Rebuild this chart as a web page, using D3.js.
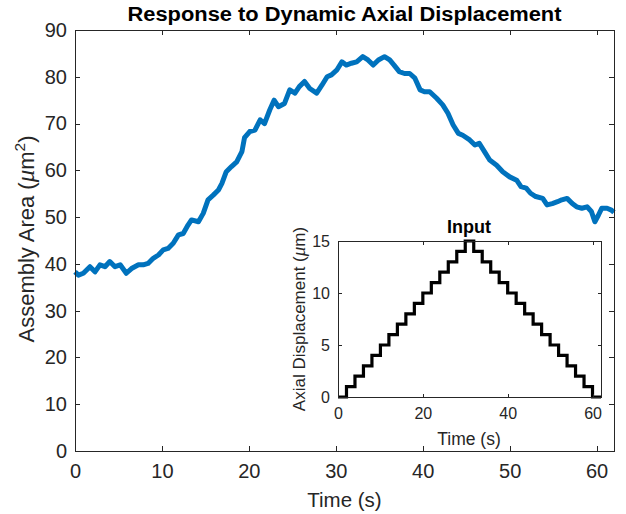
<!DOCTYPE html>
<html><head><meta charset="utf-8">
<script src="https://cdn.jsdelivr.net/npm/d3@7"></script>
<style>body{margin:0;background:#fff}svg{display:block}text{font-family:"Liberation Sans",Arial,sans-serif}</style>
</head><body><svg id="c" width="626" height="514"></svg>
<script>
const timeS = [0,0.4,0.96,1.72,2.3,2.87,3.45,4.0,4.6,5.2,5.9,6.5,7.3,7.85,8.4,9.0,9.6,10.15,10.7,11.3,11.9,12.45,13.0,13.4,14.2,14.75,15.3,15.9,16.5,16.9,17.4,18.0,18.6,19.2,19.5,20.1,20.7,21.3,21.8,22.4,22.9,23.4,24.1,24.7,25.3,25.8,26.4,27.0,27.8,28.4,29.0,29.5,30.1,30.7,31.2,31.8,32.4,33.1,33.7,34.3,34.9,35.6,36.2,36.7,37.3,37.9,38.5,39.1,39.7,40.2,40.8,41.6,42.3,42.9,43.5,44.1,44.6,45.4,46.0,46.5,47.1,47.7,48.5,49.2,50.0,50.8,51.3,51.9,52.4,53.0,53.8,54.3,54.9,55.5,56.0,56.6,57.2,57.7,58.3,58.9,59.4,59.8,60.2,60.6,61.2,61.7,62.0];
const areaUm2 = [38.3,37.6,38.0,39.4,38.3,39.8,39.4,40.5,39.4,39.8,38.0,39.0,39.8,39.8,40.1,41.2,41.9,43.0,43.3,44.4,46.2,46.5,48.3,49.4,49.0,50.8,53.7,54.7,55.8,57.2,59.7,60.8,61.8,64.0,67.0,68.3,68.6,70.8,70.0,72.9,75.0,73.6,74.3,77.2,76.5,77.9,79.0,77.5,76.5,78.2,80.0,80.4,81.4,83.2,82.5,82.9,83.2,84.3,83.6,82.5,83.6,84.3,83.6,82.5,81.1,80.7,80.7,79.7,77.2,76.8,76.8,75.4,74.0,72.2,69.7,67.9,67.5,66.5,65.4,65.8,64.0,62.2,61.1,59.7,58.6,57.9,56.5,56.2,55.1,54.4,54.0,52.6,52.9,53.3,53.7,54.0,52.9,52.2,51.9,52.2,51.2,49.0,50.4,51.9,51.9,51.5,51.0];
const inputTime = [0,2,4,6,8,10,12,14,16,18,20,22,24,26,28,30,32,34,36,38,40,42,44,46,48,50,52,54,56,58,60,62];
const inputDisp = [0,1,2,3,4,5,6,7,8,9,10,11,12,13,14,15,14,13,12,11,10,9,8,7,6,5,4,3,2,1,0,0];
const mainXTicks = [0,10,20,30,40,50,60];
const mainYTicks = [0,10,20,30,40,50,60,70,80,90];
const insetXTicks = [0,20,40,60];
const insetYTicks = [0,5,10,15];

const svg = d3.select("#c");
const axCol = "#262626";

function box(g, x, y, xt, yt, tickLen, fs, xLabOff, yLabOff) {
  const [x0,x1] = x.range(), [y0,y1] = y.range();
  g.append("rect").attr("x",x0).attr("y",y1).attr("width",x1-x0).attr("height",y0-y1)
    .attr("fill","none").attr("stroke",axCol).attr("stroke-width",1).attr("shape-rendering","crispEdges");
  const bx = d3.axisBottom(x).tickValues(xt).tickSize(-tickLen).tickPadding(xLabOff);
  const tx = d3.axisTop(x).tickValues(xt).tickSize(-tickLen).tickFormat("");
  const ly = d3.axisLeft(y).tickValues(yt).tickSize(-tickLen).tickPadding(yLabOff);
  const ry = d3.axisRight(y).tickValues(yt).tickSize(-tickLen).tickFormat("");
  const style = s => { s.select(".domain").remove(); s.selectAll("line").attr("stroke",axCol).attr("shape-rendering","crispEdges");
    s.selectAll("text").attr("fill",axCol).style("font-size",fs+"px"); };
  g.append("g").attr("transform",`translate(0,${y0})`).call(bx).call(style);
  g.append("g").attr("transform",`translate(0,${y1})`).call(tx).call(style);
  g.append("g").attr("transform",`translate(${x0},0)`).call(ly).call(style);
  g.append("g").attr("transform",`translate(${x1},0)`).call(ry).call(style);
}

// Main axes
const x = d3.scaleLinear().domain([0,62]).range([75,614]);
const y = d3.scaleLinear().domain([0,90]).range([451,30]);
const gm = svg.append("g");
gm.append("path").datum(timeS.map((t,i)=>[t,areaUm2[i]]))
  .attr("d", d3.line().x(d=>x(d[0])).y(d=>y(d[1])))
  .attr("fill","none").attr("stroke","#0072BD").attr("stroke-width",5).attr("stroke-linejoin","round");
box(gm, x, y, mainXTicks, mainYTicks, 5, 20, 13, 8);

svg.append("text").attr("x",344.5).attr("y",21).attr("text-anchor","middle")
  .style("font-size","20px").style("font-weight","bold").attr("fill","#000")
  .attr("textLength",434).attr("lengthAdjust","spacingAndGlyphs")
  .text("Response to Dynamic Axial Displacement");
svg.append("text").attr("x",344.5).attr("y",507).attr("text-anchor","middle")
  .style("font-size","20.5px").attr("fill",axCol).text("Time (s)");
const yl = svg.append("text").attr("transform","translate(34,239) rotate(-90)").attr("text-anchor","middle")
  .style("font-size","22px").attr("fill",axCol);
yl.append("tspan").text("Assembly Area (");
yl.append("tspan").style("font-style","italic").style("font-family","'Liberation Serif',serif").style("font-size","25px").text("μ");
yl.append("tspan").text("m");
yl.append("tspan").attr("dy",-9).style("font-size","15.5px").text("2");
yl.append("tspan").attr("dy",9).text(")");

// Inset
const xi = d3.scaleLinear().domain([0,62]).range([338,601]);
const yi = d3.scaleLinear().domain([0,15]).range([397,241]);
const gi = svg.append("g");
gi.append("rect").attr("x",338).attr("y",241).attr("width",263).attr("height",156).attr("fill","#fff");
gi.append("path").datum(inputTime.map((t,i)=>[t,inputDisp[i]]))
  .attr("d", d3.line().x(d=>xi(d[0])).y(d=>yi(d[1])).curve(d3.curveStepAfter))
  .attr("fill","none").attr("stroke","#000").attr("stroke-width",3.2).attr("stroke-linejoin","miter");
box(gi, xi, yi, insetXTicks, insetYTicks, 3.5, 16, 11, 8);
svg.append("text").attr("x",469).attr("y",233).attr("text-anchor","middle")
  .style("font-size","18px").style("font-weight","bold").attr("fill","#000").text("Input");
svg.append("text").attr("x",469).attr("y",445).attr("text-anchor","middle")
  .style("font-size","17.5px").attr("fill",axCol).text("Time (s)");
const yl2 = svg.append("text").attr("transform","translate(305,319) rotate(-90)").attr("text-anchor","middle")
  .style("font-size","17px").attr("fill",axCol);
yl2.append("tspan").text("Axial Displacement (");
yl2.append("tspan").style("font-style","italic").style("font-family","'Liberation Serif',serif").style("font-size","19px").text("μ");
yl2.append("tspan").text("m)");
</script></body></html>
